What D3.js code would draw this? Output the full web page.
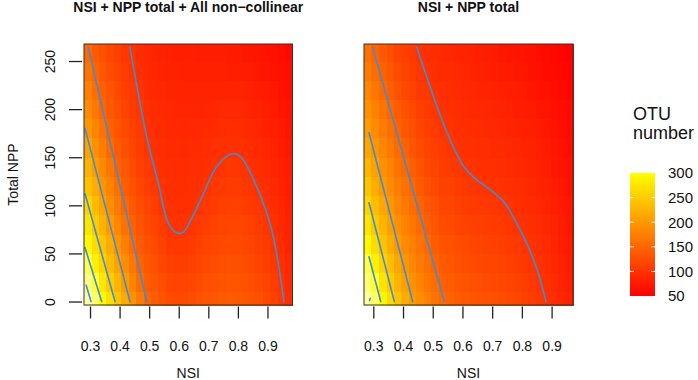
<!DOCTYPE html>
<html><head><meta charset="utf-8">
<script src="https://cdn.jsdelivr.net/npm/d3@7"></script>
<style>
body{margin:0;background:#fff;}
svg{display:block;font-family:"Liberation Sans",Arial,Helvetica,sans-serif;}
</style></head><body>
<svg id="chart" width="698" height="380"></svg>
<script>
// ---------- data ----------
const panelTitles = ["NSI + NPP total + All non\u2212collinear", "NSI + NPP total"];
const nppRows = [0,20,40,60,80,100,120,140,160,180,200,220,240,260];
const nsiTicks = [0.3,0.4,0.5,0.6,0.7,0.8,0.9];
const nppTicks = [0,50,100,150,200,250];
const legendTicks = [300,250,200,150,100,50];
const contourLevels = [350,300,250,200,150,100];

// left panel: one array per NSI column, values from NPP 0 (bottom) to 260 (top)
const nsiLeft = [0.293,0.318,0.343,0.368,0.393,0.418,0.444,0.469,0.494,0.519,0.544,0.570,0.595,0.620,0.645,0.670,0.696,0.721,0.746,0.771,0.796,0.822,0.847,0.872,0.897,0.922,0.948,0.973];
const otuLeft = [
 [365,340,316,294,275,256,240,225,210,197,186,175,164,153],
 [330,306,285,266,248,233,218,202,191,179,168,157,147,138],
 [296,277,258,241,225,210,196,184,173,161,150,143,136,130],
 [269,249,233,218,202,189,177,165,153,145,138,132,125,120],
 [242,226,209,195,182,170,158,147,140,133,127,122,117,112],
 [217,201,188,175,162,149,141,134,127,121,116,112,108,104],
 [193,179,166,153,144,136,130,124,118,113,109,106,102,99],
 [171,157,146,138,131,125,119,114,110,106,103,98,96,93],
 [149,141,134,127,121,116,111,106,102,98,95,92,89,87],
 [140,134,128,123,117,111,105,100,97,95,92,90,87,85],
 [132,126,120,114,108,102,99,96,94,92,90,87,85,83],
 [124,118,112,106,100,98,96,94,92,89,87,85,83,81],
 [122,116,110,104,99,97,95,93,91,89,86,84,82,80],
 [122,116,110,104,99,97,95,93,90,88,86,84,81,79],
 [125,120,114,108,102,98,96,94,91,89,86,84,81,79],
 [129,123,118,112,107,101,98,95,92,89,86,84,81,78],
 [132,127,122,116,111,105,100,97,94,91,87,84,81,78],
 [135,130,125,120,115,109,104,99,96,92,88,84,81,77],
 [136,131,126,121,116,111,106,101,97,93,89,85,81,77],
 [138,133,128,123,118,113,108,103,98,94,89,85,80,76],
 [137,132,127,122,118,113,108,103,98,94,89,84,80,75],
 [134,129,125,120,115,110,105,101,96,92,87,83,78,74],
 [131,126,121,117,112,107,102,98,93,89,85,81,76,72],
 [127,122,117,112,108,103,98,94,90,86,82,78,74,70],
 [122,117,112,107,102,98,94,91,87,83,79,76,72,68],
 [114,110,105,100,97,93,90,86,83,80,76,73,69,66],
 [103,99,96,93,90,87,84,81,78,75,72,69,66,63],
 [93,90,88,85,83,80,78,75,73,70,68,65,63,60]
];

// right panel
const nsiRight = [0.281,0.306,0.332,0.357,0.382,0.407,0.432,0.457,0.482,0.507,0.532,0.558,0.583,0.608,0.633,0.658,0.683,0.708,0.733,0.759,0.784,0.809,0.834,0.859,0.884,0.909,0.934,0.959];
const otuRight = [
 [353,333,312,293,275,257,242,228,214,201,191,181,171,161],
 [326,303,284,266,249,235,221,208,196,186,177,167,157,148],
 [292,274,256,241,227,214,200,191,181,172,163,153,145,137],
 [265,248,234,221,207,196,186,177,168,159,150,142,134,127],
 [241,227,214,200,191,182,173,164,155,147,139,131,124,117],
 [221,207,196,187,178,170,161,152,144,136,129,122,116,111],
 [200,192,183,175,166,157,149,141,133,127,121,115,110,106],
 [188,179,171,163,154,146,138,131,124,118,112,107,103,99],
 [176,167,159,151,143,135,128,122,117,112,107,103,99,96],
 [164,156,148,140,133,127,121,116,111,107,103,98,95,93],
 [153,145,138,131,125,119,114,110,106,102,98,95,92,90],
 [146,140,135,129,124,119,113,108,102,99,96,93,91,88],
 [141,135,130,125,119,114,109,104,99,97,94,91,89,86],
 [136,131,126,121,115,110,105,100,97,95,92,89,87,84],
 [133,128,123,118,113,108,103,99,96,93,90,88,85,82],
 [131,126,121,116,111,106,101,98,95,92,89,86,83,80],
 [129,124,119,114,110,105,100,97,94,90,87,84,81,78],
 [127,122,118,113,108,103,99,96,92,89,86,83,79,76],
 [125,120,115,111,106,101,98,94,91,87,84,81,77,74],
 [122,117,112,108,103,99,96,92,89,86,82,79,75,72],
 [118,114,109,105,100,97,93,90,87,83,80,77,73,70],
 [114,110,105,101,98,94,91,88,84,81,78,75,71,68],
 [110,106,101,98,95,92,88,85,82,79,76,72,69,66],
 [105,101,98,95,91,88,85,82,79,76,72,69,66,63],
 [99,96,93,91,88,85,82,79,76,73,70,67,64,61],
 [94,91,88,85,83,80,77,74,72,69,66,63,61,58],
 [88,85,83,80,78,75,73,70,68,65,63,60,58,55],
 [82,80,78,75,73,71,68,66,64,61,59,57,54,52]
];

// contour lines [NSI, NPP], in the order of contourLevels
const contoursLeft = [
 [[0.2870,17],[0.3034,0]],
 [[0.2831,56],[0.3395,0]],
 [[0.2831,112],[0.3845,0]],
 [[0.2831,180],[0.4350,0]],
 [[0.2943,264],[0.4916,0]],
 [[0.4352,264.2],[0.4916,171.3],[0.5311,122.8],[0.5648,81.3],[0.5930,71.5],[0.6155,72.2],[0.6381,83.0],[0.6831,111.7],[0.7282,140.2],[0.7790,153.3],[0.8071,151.2],[0.8635,119.4],[0.9142,74.3],[0.9558,0]]
];
const contoursRight = [
 [[0.2878,1.2],[0.2893,3.4]],
 [[0.2855,46.6],[0.3249,0]],
 [[0.2855,102.7],[0.3706,0]],
 [[0.2855,175.5],[0.4325,0]],
 [[0.2980,264.2],[0.5388,0]],
 [[0.4460,264.2],[0.4796,233.7],[0.5186,199.1],[0.5637,164.4],[0.6084,138.5],[0.6421,128.1],[0.7094,112.5],[0.7430,102.1],[0.7766,84.7],[0.8214,57.0],[0.8550,29.3],[0.8809,0]]
];

// ---------- drawing ----------
const svg = d3.select("#chart");
const heat = d3.scaleLinear().domain([50,300]).range(["#ff0000","#ffff00"]).interpolate(d3.interpolateRgb).clamp(true);
const pale = d3.scaleLinear().domain([300,360]).range(["#ffff30","#ffffa8"]).interpolate(d3.interpolateRgb).clamp(true);
const fillFor = v => v > 300 ? pale(v) : heat(v);

const yDomain = [-3.6, 267.7];
const y = d3.scaleLinear().domain(yDomain).range([305,44]);
const lineColor = "#3b8ed8";

function drawPanel(p, idx) {
  const x = d3.scaleLinear().domain(p.domain).range([p.x0, p.x1]);
  const g = svg.append("g");
  const clipId = "clip" + idx;
  svg.append("clipPath").attr("id", clipId).append("rect")
    .attr("x", p.x0).attr("y", 44).attr("width", p.x1 - p.x0).attr("height", 305 - 44);

  const xe = p.nsi.map((c,i) => i === 0 ? p.domain[0] : (p.nsi[i-1] + c) / 2); xe.push(p.domain[1]);
  const ye = nppRows.map((r,i) => i === 0 ? yDomain[0] : (nppRows[i-1] + r) / 2); ye.push(yDomain[1]);
  const cells = [];
  p.grid.forEach((col,i) => col.forEach((v,j) => cells.push({i,j,v})));
  g.append("g").attr("shape-rendering","crispEdges").selectAll("rect").data(cells).join("rect")
    .attr("x", d => x(xe[d.i])).attr("width", d => x(xe[d.i+1]) - x(xe[d.i]) + 0.5)
    .attr("y", d => y(ye[d.j+1])).attr("height", d => y(ye[d.j]) - y(ye[d.j+1]) + 0.5)
    .attr("fill", d => fillFor(d.v));

  const line = d3.line().x(d => x(d[0])).y(d => y(d[1])).curve(d3.curveCatmullRom.alpha(0.5));
  g.append("g").attr("clip-path", `url(#${clipId})`).selectAll("path").data(p.contours).join("path")
    .attr("d", line).attr("fill","none").attr("stroke", lineColor)
    .attr("stroke-width", 1.6).attr("stroke-linecap","round").attr("stroke-linejoin","round");

  g.append("rect").attr("x", p.x0).attr("y", 44).attr("width", p.x1 - p.x0).attr("height", 305 - 44)
    .attr("fill","none").attr("stroke","#333").attr("stroke-width",1);

  // x axis
  const ax = g.append("g").attr("transform","translate(0,306.5)")
    .call(d3.axisBottom(x).tickValues(nsiTicks).tickSize(12).tickPadding(23).tickFormat(d3.format(".1f")));
  ax.select(".domain").remove();
  ax.selectAll(".tick line").attr("stroke","#222").attr("stroke-width",1.3);
  ax.selectAll(".tick text").attr("font-size","14px").attr("fill","#111")
    .attr("font-family","'Liberation Sans',Arial,sans-serif");

  if (p.showY) {
    const ay = g.append("g").attr("transform","translate(82,0)")
      .call(d3.axisLeft(y).tickValues(nppTicks).tickSize(13));
    ay.select(".domain").remove();
    ay.selectAll(".tick line").attr("stroke","#222").attr("stroke-width",1.3);
    ay.selectAll(".tick text").attr("x", null).attr("dy", null).attr("text-anchor","middle")
      .attr("transform","translate(-27,0) rotate(-90)").attr("font-size","14px").attr("fill","#111")
      .attr("font-family","'Liberation Sans',Arial,sans-serif");
    svg.append("text").attr("transform", `translate(18,${(44+305)/2}) rotate(-90)`)
      .attr("text-anchor","middle").attr("font-size","14px").attr("fill","#111").text("Total NPP");
  }

  const cx = (p.x0 + p.x1) / 2;
  svg.append("text").attr("x", cx).attr("y", 12).attr("text-anchor","middle")
    .attr("font-size","14px").attr("font-weight","bold").attr("fill","#111").text(p.title);
  svg.append("text").attr("x", cx).attr("y", 378).attr("text-anchor","middle")
    .attr("font-size","14px").attr("fill","#111").text("NSI");
}

drawPanel({x0:84, x1:292.5, domain:[0.2797,0.9846], nsi:nsiLeft, grid:otuLeft, contours:contoursLeft, title:panelTitles[0], showY:true}, 0);
drawPanel({x0:364, x1:573, domain:[0.2687,0.972], nsi:nsiRight, grid:otuRight, contours:contoursRight, title:panelTitles[1], showY:false}, 1);

// legend
const ly = d3.scaleLinear().domain([50,300]).range([296,173]);
const grad = svg.append("defs").append("linearGradient").attr("id","lg")
  .attr("x1","0").attr("y1","1").attr("x2","0").attr("y2","0");
d3.range(0, 11).forEach(k => {
  const v = 50 + k * 25;
  grad.append("stop").attr("offset", (k/10)).attr("stop-color", heat(v));
});
svg.append("rect").attr("x",630).attr("y",ly(300)).attr("width",25).attr("height",ly(50)-ly(300)).attr("fill","url(#lg)");
svg.append("g").selectAll("line").data(legendTicks.slice(1,5).flatMap(v => [[630,634,v],[651,655,v]])).join("line")
  .attr("x1", d => d[0]).attr("x2", d => d[1]).attr("y1", d => ly(d[2])).attr("y2", d => ly(d[2]))
  .attr("stroke","#fff").attr("stroke-width",1).attr("opacity",0.85);
svg.append("g").selectAll("text").data(legendTicks).join("text")
  .attr("x",668).attr("y", d => ly(d)).attr("dy","0.36em").attr("font-size","15px").attr("fill","#111").text(d => d);
svg.append("text").attr("x",633).attr("y",120).attr("font-size","18px").attr("fill","#111").text("OTU");
svg.append("text").attr("x",633).attr("y",139).attr("font-size","18px").attr("fill","#111").text("number");
</script>
</body></html>
